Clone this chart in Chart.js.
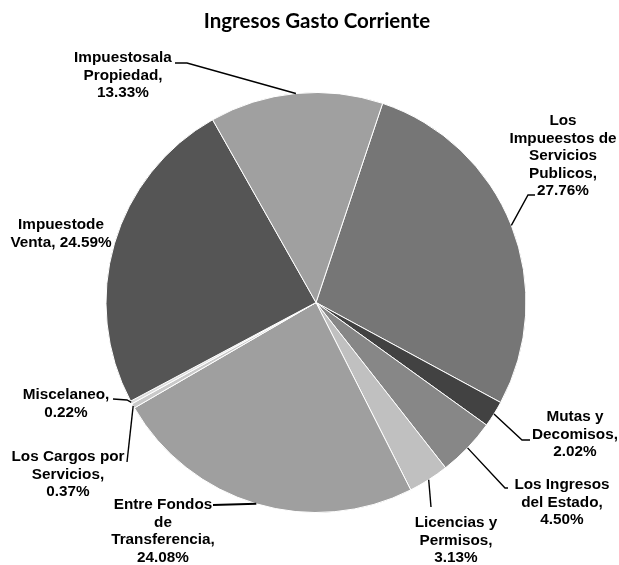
<!DOCTYPE html>
<html>
<head>
<meta charset="utf-8">
<script src="https://cdn.jsdelivr.net/npm/chart.js@4.4.1/dist/chart.umd.min.js"></script>
<style>
  html, body { margin: 0; padding: 0; background: #fff; }
  #wrap { width: 619px; height: 565px; position: relative; }
</style>
</head>
<body>
<div id="wrap"><canvas id="chartIngresos"></canvas></div>
<script>
const titulo = 'Ingresos Gasto Corriente';

// categorias (lineas del rotulo) y porcentajes
const categorias = [
  ['Los', 'Impueestos de', 'Servicios', 'Publicos,'],
  ['Mutas y', 'Decomisos,'],
  ['Los Ingresos', 'del Estado,'],
  ['Licencias y', 'Permisos,'],
  ['Entre Fondos', 'de', 'Transferencia,'],
  ['Los Cargos por', 'Servicios,'],
  ['Miscelaneo,'],
  ['Impuestode', 'Venta,'],
  ['Impuestosala', 'Propiedad,'],
];
const porcentajes = [27.76, 2.02, 4.50, 3.13, 24.08, 0.37, 0.22, 24.59, 13.33];

const colores = ['#767676', '#424242', '#878787', '#c0c0c0', '#9f9f9f', '#c9c9c9', '#dcdcdc', '#555555', '#a0a0a0'];

// posicion de los rotulos: centro x, y de la primera linea, quiebres de la linea guia
const rotulos = [
  { x: 563, y: 121, guia: [[535, 195], [528, 195]] },
  { x: 575, y: 417, guia: [[530, 440], [522, 440]] },
  { x: 562, y: 485, guia: [[508, 488], [505, 488]] },
  { x: 456, y: 523, guia: [[431, 507]] },
  { x: 163, y: 505, guia: [[213, 505]], grueso: true },
  { x: 68, y: 457, guia: [[127, 462]] },
  { x: 66, y: 395, guia: [[113, 399], [127, 400]] },
  { x: 61, y: 225, guia: null, unir: true },
  { x: 123, y: 58, guia: [[175, 63], [187, 63]] },
];

const rotulosPlugin = {
  id: 'rotulos',
  afterDraw(chart) {
    const ctx = chart.ctx;
    const meta = chart.getDatasetMeta(0);
    ctx.save();

    ctx.fillStyle = '#000';
    ctx.textAlign = 'center';
    ctx.textBaseline = 'middle';
    ctx.font = 'bold 20.5px Lato, "Open Sans", sans-serif';
    ctx.fillText(titulo, 317, 21);

    ctx.font = 'bold 15.3px "Liberation Sans", Arial, sans-serif';
    meta.data.forEach((arc, i) => {
      const r = rotulos[i];
      const pct = porcentajes[i].toFixed(2) + '%';
      let lineas = categorias[i].slice();
      if (r.unir) lineas[lineas.length - 1] += ' ' + pct;
      else lineas.push(pct);
      lineas.forEach((t, k) => ctx.fillText(t, r.x, r.y + k * 17.5));

      if (r.guia) {
        const { x, y, startAngle, endAngle, outerRadius } = arc.getProps(['x', 'y', 'startAngle', 'endAngle', 'outerRadius'], true);
        const mid = (startAngle + endAngle) / 2;
        const ex = x + Math.cos(mid) * outerRadius;
        const ey = y + Math.sin(mid) * outerRadius;
        ctx.strokeStyle = '#000';
        ctx.lineWidth = r.grueso ? 2 : 1.4;
        ctx.beginPath();
        ctx.moveTo(r.guia[0][0], r.guia[0][1]);
        r.guia.slice(1).forEach((p) => ctx.lineTo(p[0], p[1]));
        ctx.lineTo(ex, ey);
        ctx.stroke();
      }
    });
    ctx.restore();
  },
};

new Chart(document.getElementById('chartIngresos'), {
  type: 'pie',
  data: {
    labels: categorias.map((c) => c.join(' ')),
    datasets: [
      {
        data: porcentajes,
        backgroundColor: colores,
        borderColor: '#ffffff',
        borderWidth: 1,
      },
    ],
  },
  options: {
    responsive: true,
    maintainAspectRatio: false,
    animation: false,
    rotation: 18.5,
    layout: { padding: { top: 92, bottom: 52, left: 105.5, right: 92.5 } },
    plugins: {
      legend: { display: false },
      tooltip: { enabled: false },
      title: { display: false },
    },
  },
  plugins: [rotulosPlugin],
});
</script>
</body>
</html>
